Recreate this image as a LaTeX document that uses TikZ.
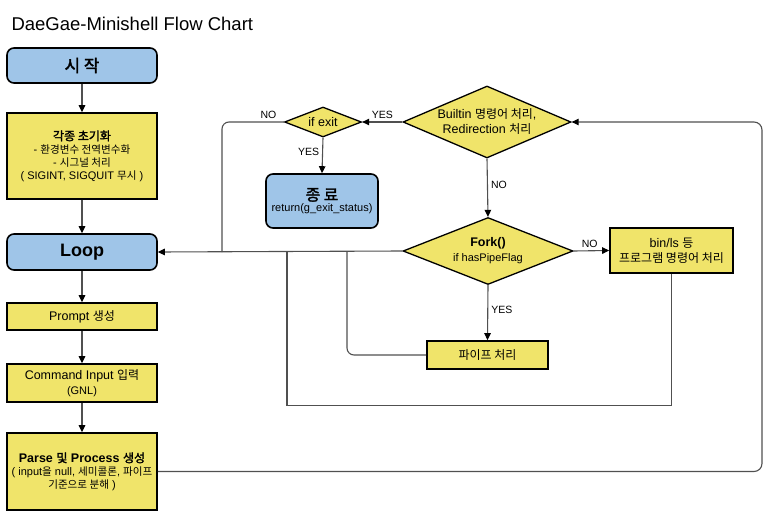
\documentclass[tikz,border=0pt]{standalone}
\usepackage{fontspec}
\setmainfont{Liberation Sans}
\newfontfamily\kr{Noto Sans CJK KR}[Scale=0.96, AutoFakeBold=2]
\usetikzlibrary{positioning, calc, arrows.meta, shapes.geometric}
\definecolor{boxblue}{RGB}{159,197,232}
\definecolor{boxyellow}{RGB}{240,228,106}
\definecolor{linegray}{RGB}{80,80,80}
\newcommand{\smalltxt}{\fontsize{11}{13}\selectfont}
\newcommand{\normtxt}{\fontsize{12.5}{15}\selectfont}
\tikzset{termbox/.style={rounded corners=7, draw=black, line width=1.6pt, fill=boxblue, align=center, inner sep=2pt}}
\tikzset{procbox/.style={draw=black, line width=1.6pt, fill=boxyellow, align=center, inner sep=2pt, font=\normtxt}}
\tikzset{decision/.style={diamond, draw=black, line width=1.3pt, fill=boxyellow, inner sep=0pt}}
\tikzset{arr/.style={draw=linegray, line width=1.1pt, -{Triangle[length=7pt, width=6.5pt, color=black]}}}
\tikzset{link/.style={draw=linegray, line width=1.1pt}}
\tikzset{yn/.style={font=\fontsize{10.5}{12}\selectfont, inner sep=3pt}}

\begin{document}
\begin{tikzpicture}[x=1pt, y=-1pt]
    \useasboundingbox (0,0) rectangle (768,522);
    \node[anchor=west, font=\fontsize{18.5}{22}\selectfont] (title) at (8,24) {DaeGae-Minishell Flow Chart};

    % main column
    \node[termbox, minimum width=150pt, minimum height=35pt] (start) at (82,65.5)
        {\fontsize{17.5}{20}\selectfont\bfseries\kr 시 작};
    \node[procbox, minimum width=150pt, minimum height=86pt, font=\smalltxt] (init) at (82,156)
        {{\normtxt\bfseries\kr 각종 초기화}\\
         - {\kr 환경변수 전역변수화}\\
         - {\kr 시그널 처리}\\
         ( SIGINT, SIGQUIT {\kr 무시} )};
    \node[termbox, minimum width=150pt, minimum height=36pt] (loop) at (82,252)
        {\fontsize{18}{20}\selectfont\bfseries Loop};
    \node[procbox, minimum width=150pt, minimum height=27pt] (prompt) at (82,316.5)
        {Prompt {\kr 생성}};
    \node[procbox, minimum width=150pt, minimum height=38pt] (cmd) at (82,383)
        {Command Input {\kr 입력}\\ {\smalltxt (GNL)}};
    \node[procbox, minimum width=150pt, minimum height=77pt, font=\smalltxt] (parse) at (82,471.5)
        {{\normtxt\bfseries Parse {\kr 및} Process {\kr 생성}}\\
         ( input{\kr 을} null, {\kr 세미콜론}, {\kr 파이프}\\
         {\kr 기준으로 분해} )};

    % decisions
    \node[decision, minimum width=168pt, minimum height=72pt] (builtin) at (487,122) {};
    \node[align=center, font=\normtxt] (builtintxt) at (builtin)
        {Builtin {\kr 명령어 처리},\\ Redirection {\kr 처리}};
    \node[decision, minimum width=77pt, minimum height=30pt] (ifexit) at (323,122) {};
    \node[font=\normtxt] (ifexittxt) at (ifexit) {if exit};
    \node[termbox, minimum width=112pt, minimum height=54pt] (end) at (322,201)
        {\fontsize{16.5}{19}\selectfont\bfseries\kr 종 료\\[-1pt] {\smalltxt return(g\_exit\_status)}};
    \node[decision, minimum width=170pt, minimum height=67pt] (fork) at (488,251) {};
    \node[align=center, font=\normtxt] (forktxt) at (fork)
        {\bfseries Fork()\\ {\smalltxt if hasPipeFlag}};
    \node[procbox, minimum width=123pt, minimum height=45pt] (binls) at (671.5,250.5)
        {bin/ls {\kr 등}\\ {\kr 프로그램 명령어 처리}};
    \node[procbox, minimum width=121pt, minimum height=28pt] (pipe) at (487.5,355)
        {{\kr 파이프 처리}};

    \coordinate (j1) at (222,252);
    \coordinate (j2) at (287,252);
    \coordinate (j3) at (347,252);
    \coordinate (rc) at (762,122);

    % main column arrows
    \draw[arr] (start) -- (init);
    \draw[arr] (init) -- (loop);
    \draw[arr] (loop) -- (prompt);
    \draw[arr] (prompt) -- (cmd);
    \draw[arr] (cmd) -- (parse);

    % loop back
    \draw[arr, rounded corners=8] (parse.east) -| (rc) -- (builtin.east);
    \draw[arr] (builtin.west) -- node[yn, above] {YES} (ifexit.east);
    \draw[link, rounded corners=7] (ifexit.west) -- node[yn, above, pos=0.25] {NO} (ifexit.west -| j1) -- (j1);
    \draw[arr] (ifexit.south) -- node[yn, left, pos=0.4] {YES} (end.north);
    \draw[arr] (builtin.south) -- node[yn, right, pos=0.45] {NO} (fork.north);
    \draw[arr] (fork.west) -- (loop.east);
    \draw[arr] (fork.east) -- node[yn, above, pos=0.45] {NO} (binls.west);
    \draw[arr] (fork.south) -- node[yn, right, pos=0.45] {YES} (pipe.north);
    \draw[link] (binls.south) -- ++(0,132) -| (j2);
    \draw[link, rounded corners=7] (pipe.west) -| (j3);
\end{tikzpicture}
\end{document}
